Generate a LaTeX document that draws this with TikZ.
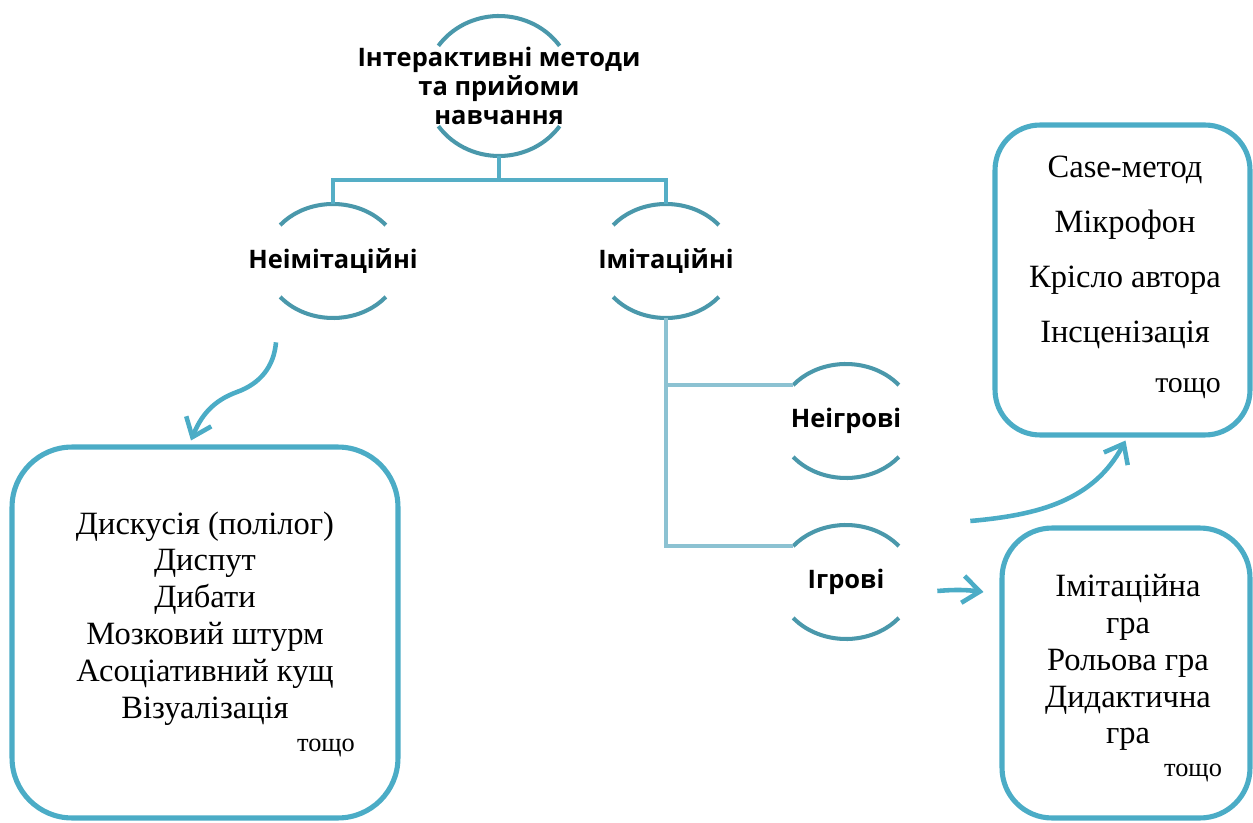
\documentclass[tikz,border=0pt]{standalone}
\usepackage{fontspec}
\setmainfont{Liberation Serif}
\newfontfamily\labelfont{Open Sans}
\usepackage{tikz}
\usetikzlibrary{arrows.meta,positioning,shapes.geometric,calc}
\definecolor{boxline}{HTML}{4BACC6}
\definecolor{arcline}{HTML}{4A98AB}
\definecolor{linkline}{HTML}{55AEC6}
\definecolor{branchline}{HTML}{8CC2D2}

\begin{document}
\begin{tikzpicture}[x=0.02cm,y=0.02cm,
  ring/.style={ellipse,inner sep=0pt,minimum width=2.72cm,minimum height=2.28cm,
    align=center,font=\labelfont\bfseries\fontsize{14.5}{17}\selectfont},
  arcs/.style={arcline,line width=2.3pt},
  link/.style={linkline,line width=2.2pt},
  branch/.style={branchline,line width=2.2pt},
  listbox/.style={draw=boxline,line width=2.9pt,rounded corners=1.2cm},
  items/.style={align=center,font=\fontsize{18.5}{21}\selectfont},
  etc/.style={font=\fontsize{15}{17}\selectfont},
  arr/.style={boxline,line width=2.6pt,-{Straight Barb[length=3.4mm,width=5.4mm]}}]
\useasboundingbox (0,0) rectangle (1253,822);
% headings
\node[ring,minimum width=2.96cm,minimum height=2.8cm,font=\labelfont\bfseries\fontsize{14.5}{16.6}\selectfont] (top) at (499,736) {Інтерактивні методи\\та прийоми\\навчання};
\node[ring] (nm) at (333,561) {Неімітаційні};
\node[ring] (im) at (666,561) {Імітаційні};
\node[ring] (ng) at (846,401) {Неігрові};
\node[ring] (ig) at (846,240) {Ігрові};
\draw[arcs] ($(top)+(35:74 and 70)$) arc[start angle=35,end angle=145,x radius=74,y radius=70];
\draw[arcs] ($(top)+(215:74 and 70)$) arc[start angle=215,end angle=325,x radius=74,y radius=70];
\foreach \n in {nm,im,ng,ig}{
  \draw[arcs] ($(\n)+(39:68 and 57)$) arc[start angle=39,end angle=141,x radius=68,y radius=57];
  \draw[arcs] ($(\n)+(219:68 and 57)$) arc[start angle=219,end angle=321,x radius=68,y radius=57];
}
\draw[link] (top.south) -- ++(0,-24) -| (nm.north);
\draw[link] (top.south) -- ++(0,-24) -| (im.north);
\draw[branch] (im.south) |- ($(ng)+(141:68 and 57)$);
\draw[branch] (im.south) |- ($(ig)+(141:68 and 57)$);
% boxes
\node[listbox,minimum width=7.72cm,minimum height=7.42cm] (lbox) at (205,189.5) {};
\node[listbox,rounded corners=0.9cm,minimum width=5.1cm,minimum height=6.2cm] (tbox) at (1122.5,542) {};
\node[listbox,rounded corners=1cm,minimum width=4.96cm,minimum height=5.8cm] (bbox) at (1126,149) {};
\node[items] (llist) at (205,203.5) {Дискусія (полілог)\\Диспут\\Дибати\\Мозковий штурм\\Асоціативний кущ\\Візуалізація};
\node[items,font=\fontsize{18.5}{31.2}\selectfont] (tlist) at (1125,569.5) {Case-метод\\Мікрофон\\Крісло автора\\Інсценізація};
\node[items] (blist) at (1128,159.5) {Імітаційна\\гра\\Рольова гра\\Дидактична\\гра};
\node[etc] (letc) at (326,74) {тощо};
\node[etc,font=\fontsize{17}{19}\selectfont] (tetc) at (1188,433) {тощо};
\node[etc] (betc) at (1193,49) {тощо};
% arrows
\coordinate (nmout) at ($(nm.south)+(-57,-24)$);
\coordinate (igout) at ($(ig.east)+(23,-9)$);
\coordinate (igup) at ($(ig.east)+(56,61)$);
\draw[arr] (nmout) to[out=-95,in=20] (237,430) to[out=200,in=68] ($(lbox.north)+(-14,4)$);
\draw[arr] (igout) to[bend left=6] ($(bbox.west)+(-16,81)$);
\draw[arr] (igup) to[out=5,in=-118] ($(tbox.south)+(3,-3)$);
\end{tikzpicture}
\end{document}
